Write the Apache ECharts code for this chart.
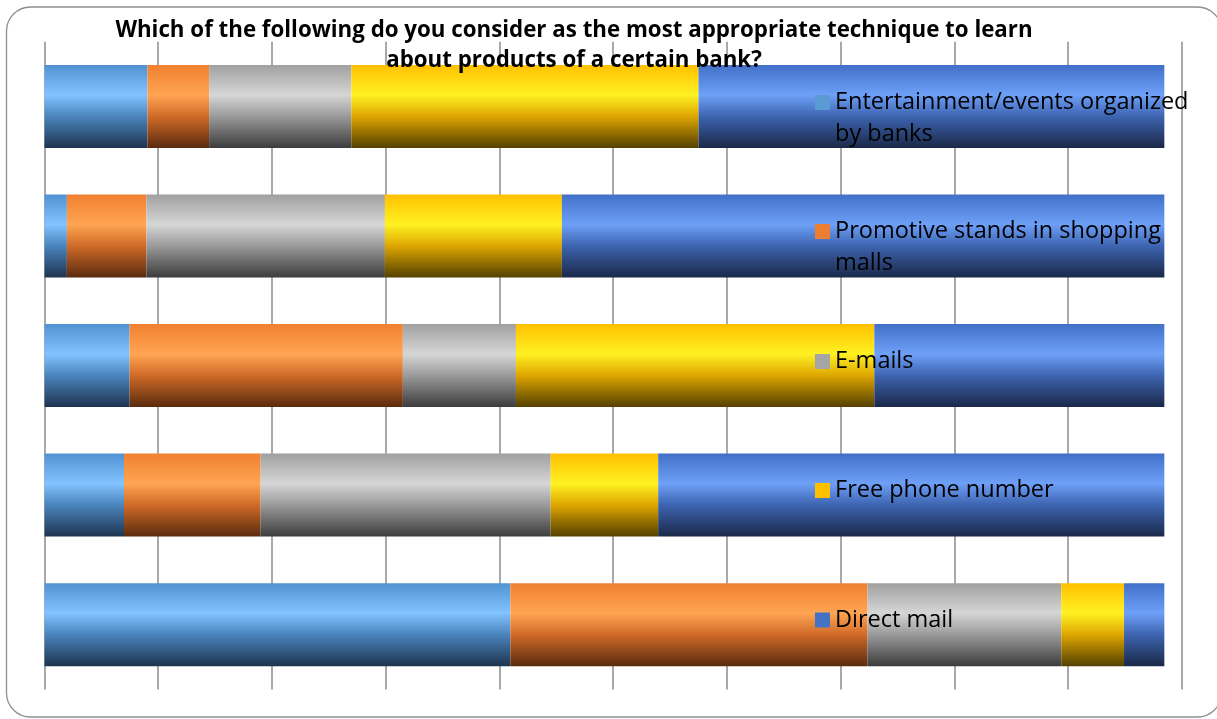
<!DOCTYPE html>
<html>
<head>
<meta charset="utf-8">
<title>Techniques to learn about bank products</title>
<script src="https://cdn.jsdelivr.net/npm/echarts@6/dist/echarts.min.js"></script>
<style>
  html, body { margin: 0; padding: 0; background: #ffffff; }
  #chart { width: 1217px; height: 719px; }
</style>
</head>
<body>
<div id="chart"></div>
<script>
// Respondent groups (one horizontal bar each, top to bottom)
const categories = ['Group 1', 'Group 2', 'Group 3', 'Group 4', 'Group 5'];

// Series names and the wrapped legend labels
const seriesNames = [
  'Entertainment/events organized by banks',
  'Promotive stands in shopping malls',
  'E-mails',
  'Free phone number',
  'Direct mail'
];
const legendLabels = [
  'Entertainment/events organized\nby banks',
  'Promotive stands in shopping\nmalls',
  'E-mails',
  'Free phone number',
  'Direct mail'
];

// Share of answers per group, in percent
const entertainment = [9.2, 2.0, 7.6, 7.1, 41.6];
const promotiveStands = [5.5, 7.1, 24.4, 12.2, 31.9];
const emails = [12.7, 21.3, 10.1, 25.9, 17.3];
const freePhone = [31.0, 15.8, 32.0, 9.6, 5.6];
const directMail = [41.6, 53.8, 25.9, 45.2, 3.6];

const seriesValues = [entertainment, promotiveStands, emails, freePhone, directMail];

// Flat colours (legend) and shaded bar fills
const flatColors = ['#5b9bd5', '#ed7d31', '#a5a5a5', '#ffc000', '#4472c4'];
const shades = [
  ['#5192d2', '#82c4ff', '#4a84bd', '#1e344f'],
  ['#f0802f', '#ffa553', '#d06a28', '#5a2b0e'],
  ['#a0a0a0', '#d6d6d6', '#9a9a9a', '#3c3c3c'],
  ['#ffc000', '#fff222', '#dea600', '#544000'],
  ['#4270c8', '#6ea0f8', '#3d64b0', '#1a2848']
];

function barFill(s) {
  return {
    type: 'linear', x: 0, y: 0, x2: 0, y2: 1,
    colorStops: [
      { offset: 0, color: s[0] },
      { offset: 0.36, color: s[1] },
      { offset: 0.62, color: s[2] },
      { offset: 1, color: s[3] }
    ]
  };
}

// Square marker for one-line labels; for two-line labels the square sits at
// the top of a taller (otherwise empty) icon box so it lines up with line one.
const squareIcon = 'rect';
const topSquareIcon = 'path://M0,0H15V15H0Z M0,47H15';

const chart = echarts.init(document.getElementById('chart'), null, { renderer: 'canvas' });

// One legend block per series so each sits beside its own bar
const legendCenters = [102.5, 231.5, 361.5, 490.5, 620];
const legends = seriesNames.map(function (name, i) {
  const twoLines = legendLabels[i].indexOf('\n') >= 0;
  return {
    data: [{ name: name, itemStyle: { color: flatColors[i] } }],
    left: 810,
    top: legendCenters[i] - 21,
    orient: 'vertical',
    icon: twoLines ? topSquareIcon : squareIcon,
    itemWidth: 15,
    itemHeight: twoLines ? 47 : 15,
    formatter: function () { return legendLabels[i]; },
    textStyle: {
      fontFamily: 'Open Sans',
      fontSize: 23.5,
      color: '#000000',
      lineHeight: 32
    }
  };
});

const option = {
  backgroundColor: '#ffffff',
  animation: false,
  title: {
    text: 'Which of the following do you consider as the most appropriate technique to learn\nabout products of a certain bank?',
    left: 569,
    top: 10,
    textAlign: 'center',
    textStyle: {
      fontFamily: 'Open Sans',
      fontWeight: 'bold',
      fontSize: 22.3,
      lineHeight: 30.6,
      color: '#000000'
    }
  },
  legend: legends,
  grid: {
    left: 44.5,
    right: 35.3,
    top: 41.7,
    bottom: 29.6,
    containLabel: false
  },
  xAxis: {
    type: 'value',
    min: 0,
    max: 101.55,
    interval: 10.155,
    axisLine: { show: false },
    axisTick: { show: false },
    axisLabel: { show: false },
    splitLine: { show: true, lineStyle: { color: '#8c8c8c', width: 1.5 } }
  },
  yAxis: {
    type: 'category',
    data: categories,
    inverse: true,
    axisLine: { show: false },
    axisTick: { show: false },
    axisLabel: { show: false },
    splitLine: { show: false }
  },
  graphic: [{
    type: 'rect',
    z: -10,
    silent: true,
    shape: { x: 6.5, y: 7, width: 1215, height: 710, r: 24 },
    style: { fill: 'none', stroke: '#8f8f8f', lineWidth: 1.3 }
  }],
  series: seriesNames.map(function (name, i) {
    return {
      name: name,
      type: 'bar',
      stack: 'total',
      barWidth: 83,
      data: seriesValues[i],
      itemStyle: { color: barFill(shades[i]) },
      emphasis: { disabled: true }
    };
  })
};

chart.setOption(option);
</script>
</body>
</html>
